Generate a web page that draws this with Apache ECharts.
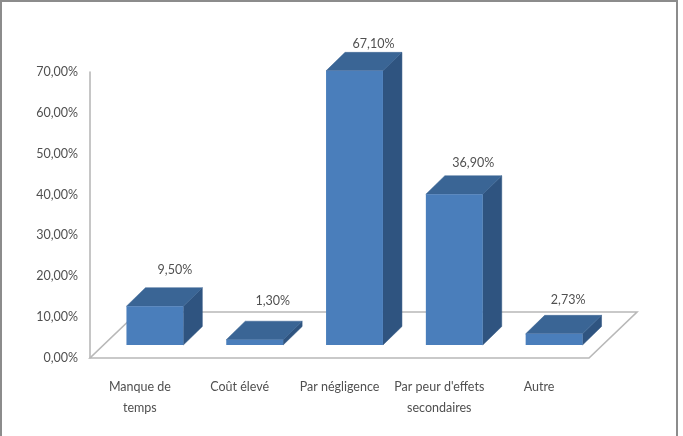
<!DOCTYPE html>
<html>
<head>
<meta charset="utf-8">
<style>
  html, body { margin: 0; padding: 0; background: #fff; }
  #chart { width: 683px; height: 436px; }
</style>
<script src="https://cdn.jsdelivr.net/npm/echarts@6/dist/echarts.min.js"></script>
</head>
<body>
<div id="chart"></div>
<script>
// Raisons de la non-observance : pourcentage par motif
const categories = ['Manque de\ntemps', 'Coût élevé', 'Par négligence', "Par peur d'effets\nsecondaires", 'Autre'];
const values = [9.5, 1.3, 67.1, 36.9, 2.73];
const yTicks = { min: 0, max: 70, interval: 10 };
// Placement de chaque étiquette par rapport à l'arête arrière de sa colonne
const labelRise = [18, 20, 8, 13, 15];
const labelShift = [1, -1, 0, 0, -5];

const FONT = 'Lato, "Open Sans", sans-serif';
const TEXT = '#505050';
const LINE = '#b8b8b8';
const SIZE = 12.5;
const percent = (v) => v.toFixed(2).replace('.', ',') + '%';

// Projection oblique du plancher et des colonnes
const floorDepth = [48, -46];
const barInset = [15, -13];
const barDepth = [19, -18.5];

function renderFloor(params, api) {
  const band = api.size([1, 0])[0];
  const y0 = api.coord([0, 0])[1];
  const xl = api.coord([0, 0])[0] - band / 2;
  const xr = api.coord([categories.length - 1, 0])[0] + band / 2;
  return {
    type: 'polygon',
    shape: { points: [
      [xl, y0], [xr, y0],
      [xr + floorDepth[0], y0 + floorDepth[1]],
      [xl + floorDepth[0], y0 + floorDepth[1]]
    ] },
    style: { fill: '#fff', stroke: LINE, lineWidth: 1.6 }
  };
}

function renderBar(params, api) {
  const i = api.value(0);
  const v = api.value(1);
  const base = api.coord([i, 0]);
  const top = api.coord([i, v]);
  const w = api.size([1, 0])[0] * 0.57;
  const xl = base[0] + barInset[0] - w / 2;
  const xr = xl + w;
  const yb = base[1] + barInset[1];
  const yt = top[1] + barInset[1];
  const dx = barDepth[0];
  const dy = barDepth[1];
  return {
    type: 'group',
    children: [
      { type: 'polygon',
        shape: { points: [[xr, yt], [xr + dx, yt + dy], [xr + dx, yb + dy], [xr, yb]] },
        style: { fill: '#2f5480', stroke: '#2f5480', lineWidth: 0.5 } },
      { type: 'polygon',
        shape: { points: [[xl, yt], [xl + dx, yt + dy], [xr + dx, yt + dy], [xr, yt]] },
        style: { fill: '#3a6595', stroke: '#3a6595', lineWidth: 0.5 } },
      { type: 'rect',
        shape: { x: xl, y: yt, width: w, height: yb - yt },
        style: { fill: '#4a7ebb' } },
      { type: 'text',
        style: {
          text: percent(v),
          x: (xl + xr) / 2 + dx + labelShift[i],
          y: yt + dy - labelRise[i],
          textAlign: 'center',
          textVerticalAlign: 'middle',
          fill: TEXT,
          font: SIZE + 'px ' + FONT
        } }
    ]
  };
}

const chart = echarts.init(document.getElementById('chart'), null, { renderer: 'canvas' });
chart.setOption({
  animation: false,
  backgroundColor: '#fff',
  graphic: [{
    type: 'rect',
    silent: true,
    shape: { x: 1, y: 1, width: 676, height: 440 },
    style: { fill: 'none', stroke: '#8c8c8c', lineWidth: 2 }
  }],
  grid: { left: 90, right: 94, top: 72, bottom: 78 },
  xAxis: {
    type: 'category',
    data: categories,
    axisTick: { show: false },
    axisLine: { show: false },
    axisLabel: { color: TEXT, fontFamily: FONT, fontSize: SIZE, margin: 18, lineHeight: 21, interval: 0 }
  },
  yAxis: {
    type: 'value',
    min: yTicks.min,
    max: yTicks.max,
    interval: yTicks.interval,
    splitLine: { show: false },
    axisTick: { show: false },
    axisLine: { show: true, lineStyle: { color: LINE, width: 1.6 } },
    axisLabel: { color: TEXT, fontFamily: FONT, fontSize: SIZE, margin: 12, padding: [2, 0, 0, 0], formatter: percent }
  },
  series: [
    { type: 'custom', name: 'Plancher', data: [[0, 0]], encode: { x: 0, y: 1 }, renderItem: renderFloor, clip: false, silent: true, z: 1 },
    { type: 'custom', name: 'Motifs', data: values.map((v, i) => [i, v]), encode: { x: 0, y: 1 }, renderItem: renderBar, clip: false, z: 2 }
  ]
});
</script>
</body>
</html>
